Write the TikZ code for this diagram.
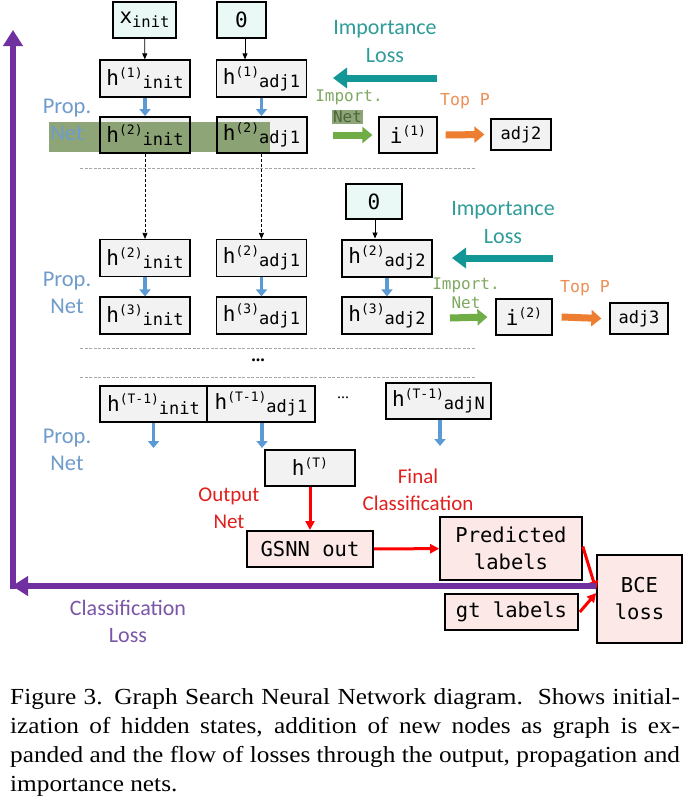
\documentclass[tikz,border=0pt]{standalone}
\usepackage{fontspec}
\usepackage{graphicx}
\setmainfont{Liberation Serif}
\setmonofont{DejaVu Sans Mono}
\newfontfamily\calib{Carlito}
\usetikzlibrary{arrows.meta}

\definecolor{boxgray}{HTML}{F2F2F2}
\definecolor{boxcyan}{HTML}{EBF9F6}
\definecolor{boxpink}{HTML}{FCE9E7}
\definecolor{propblue}{HTML}{5B9BD5}
\definecolor{proptext}{HTML}{6F9CCB}
\definecolor{impteal}{HTML}{129696}
\definecolor{imptext}{HTML}{2E9C98}
\definecolor{netgreen}{HTML}{70AD47}
\definecolor{nettext}{HTML}{7FA862}
\definecolor{bandgreen}{HTML}{728F55}
\definecolor{topor}{HTML}{ED7D31}
\definecolor{toptext}{HTML}{EE8F58}
\definecolor{outred}{HTML}{FF0000}
\definecolor{outtext}{HTML}{E0201E}
\definecolor{clspurple}{HTML}{7030A0}
\definecolor{clstext}{HTML}{7B55A8}

% hidden state label: h^(step)_node
\newcommand{\hst}[2]{h\raisebox{8pt}{\fontsize{13}{13}\selectfont(#1)}\raisebox{-3pt}{\fontsize{17}{17}\selectfont#2}}

\tikzset{
  box/.style={draw=black, line width=1.2pt, fill=boxgray, minimum width=90pt,
    minimum height=37pt, inner sep=0pt, font=\fontsize{21}{21}\selectfont\ttfamily},
  initbox/.style={box, fill=boxcyan},
  thickbox/.style={box, line width=2pt},
  smallbox/.style={box, font=\fontsize{17}{17}\selectfont\ttfamily},
  outbox/.style={box, line width=1.6pt, fill=boxpink, align=center,
    font=\fontsize{20.5}{27}\selectfont\ttfamily},
  proplabel/.style={text=proptext, align=center, font=\calib\fontsize{22.5}{27}\selectfont},
  implabel/.style={text=imptext, align=center, font=\calib\fontsize{22}{28}\selectfont},
  netlabel/.style={text=nettext, inner sep=1pt, font=\fontsize{16}{16}\selectfont\ttfamily},
  toplabel/.style={text=toptext, font=\fontsize{16.5}{16.5}\selectfont\ttfamily},
  outlabel/.style={text=outtext, align=center, font=\calib\fontsize{21}{27}\selectfont},
  clslabel/.style={text=clstext, align=center, font=\calib\fontsize{22}{27}\selectfont},
  feed/.style={-{Triangle[width=5pt,length=6pt]}, line width=0.8pt},
  carry/.style={feed, dash pattern=on 3pt off 2pt},
  prop/.style={-{Triangle[width=11pt,length=7pt]}, line width=3.5pt, draw=propblue},
  impl/.style={-{Triangle[width=20pt,length=14pt]}, line width=7pt, draw=impteal},
  impn/.style={-{Triangle[width=16pt,length=10pt]}, line width=7pt, draw=netgreen},
  topp/.style={-{Triangle[width=16pt,length=10pt]}, line width=7pt, draw=topor},
  outp/.style={-{Triangle[width=9pt,length=9pt]}, line width=3pt, draw=outred},
  clsl/.style={-{Triangle[width=19pt,length=16pt]}, line width=6pt, draw=clspurple},
  sep/.style={draw=gray!70, line width=0.6pt, dash pattern=on 3pt off 1.5pt},
  capline/.style={anchor=base west, inner sep=0pt, font=\fontsize{23}{23}\selectfont}
}

\begin{document}
\begin{tikzpicture}[x=1pt,y=-1pt]

\useasboundingbox[fill=white] (0,0) rectangle (690,809);

% Step 1: initial node and first neighbour
\node[initbox, minimum width=63pt, minimum height=36pt] (xinit) at (144.5,20)
  {x\raisebox{-4pt}{\fontsize{15.5}{15.5}\selectfont init}};
\node[initbox, minimum width=49pt, minimum height=36pt] (zeroa) at (241.5,20) {0};
\node[box] (h1i) at (145,78.5) {\hst{1}{init}};
\node[box] (h1a) at (261.5,78.5) {\hst{1}{adj1}};

% Green band over the second row (box fill, band, then text and border)
\fill[boxgray] (100,117) rectangle (190,153);
\fill[boxgray] (216.5,117) rectangle (306.5,153);
\fill[bandgreen, opacity=0.8] (49,122) rectangle (270,152);
\node[thickbox, fill=none, minimum height=36pt] (h2i) at (145,135) {\hst{2}{init}};
\node[thickbox, fill=none, minimum height=36pt] (h2a) at (261.5,135) {\hst{2}{adj1}};
\node[proplabel] (prop1) at (67,120) {Prop.\\Net};

\draw[feed] (xinit) -- (h1i);
\draw[feed] ([xshift=3.5pt]zeroa.south) -- ([xshift=3.5pt]zeroa.south |- h1a.north);
\draw[prop] (h1i) -- (h2i);
\draw[prop] (h1a) -- (h2a);

% Importance net 1
\node[box, minimum width=58pt, minimum height=36pt] (i1) at (408,135)
  {i\raisebox{8pt}{\fontsize{13}{13}\selectfont(1)}};
\node[smallbox, minimum width=60pt, minimum height=31pt] (adj2) at (521,134.5) {adj2};
\node[implabel] (imp1) at (385,42) {Importance\\Loss};
\coordinate (imp1s) at (437,78);
\coordinate (imp1e) at (333,78);
\draw[impl] (imp1s) -- (imp1e);
\node[netlabel] (import1) at (349,97) {Import.};
\node[netlabel, fill=bandgreen!80, text=nettext!60!black] (net1) at (347.5,117) {Net};
\coordinate (green1) at (333,135);
\draw[impn] (green1) -- ([xshift=-6pt]i1.west);
\node[toplabel] (top1) at (465,101) {Top P};
\draw[topp] ([xshift=8pt]i1.east) -- ([xshift=-6pt]adj2.west);

\draw[sep] (80,168) -- (475,168);

% Step 2
\node[initbox, minimum width=56pt, minimum height=35pt] (zerob) at (374,201.5) {0};
\node[box] (h2ii) at (145,258) {\hst{2}{init}};
\node[box] (h2ia) at (261.5,258) {\hst{2}{adj1}};
\node[thickbox] (h2b) at (387,258) {\hst{2}{adj2}};
\node[box] (h3i) at (145,315.5) {\hst{3}{init}};
\node[box] (h3a) at (261.5,315.5) {\hst{3}{adj1}};
\node[box] (h3b) at (387,315.5) {\hst{3}{adj2}};
\draw[carry] (h2i) -- (h2ii);
\draw[carry] (h2a) -- (h2ia);
\draw[feed] ([xshift=1pt]zerob.south) -- ([xshift=1pt]zerob.south |- h2b.north);
\draw[prop] (h2ii) -- (h3i);
\draw[prop] (h2ia) -- (h3a);
\draw[prop] (h2b) -- (h3b);
\node[proplabel] (prop2) at (67,293) {Prop.\\Net};

% Importance net 2
\node[box, minimum width=56pt, minimum height=36pt] (i2) at (524,317)
  {i\raisebox{8pt}{\fontsize{13}{13}\selectfont(2)}};
\node[smallbox, minimum width=58pt, minimum height=31pt] (adj3) at (639,318.5) {adj3};
\node[implabel] (imp2) at (503,223) {Importance\\Loss};
\coordinate (imp2s) at (553,258);
\coordinate (imp2e) at (452,258);
\draw[impl] (imp2s) -- (imp2e);
\node[netlabel] (import2) at (466,285) {Import.};
\node[netlabel] (net2) at (466,303) {Net};
\coordinate (green2) at (450,318);
\draw[impn] (green2) -- ([xshift=-8pt]i2.west);
\node[toplabel] (top2) at (585,288) {Top P};
\draw[topp] ([xshift=9pt]i2.east) -- ([xshift=-8pt]adj3.west);

\draw[sep] (80,348) -- (475,348);
\node[font=\bfseries\fontsize{18}{18}\selectfont] (dotsa) at (258,360) {...};
\draw[sep] (80,377) -- (475,377);

% Step T
\node[thickbox, minimum width=107pt, minimum height=36pt] (hti) at (153.5,404) {\hst{T-1}{init}};
\node[thickbox, minimum width=108pt, minimum height=36pt] (hta) at (261,404) {\hst{T-1}{adj1}};
\node[font=\fontsize{16}{16}\selectfont] (dotsb) at (343,398) {...};
\node[box, minimum width=105pt, minimum height=36pt] (htn) at (438.5,401) {\hst{T-1}{adjN}};
\coordinate (ti) at (153.5,448);
\coordinate (ta) at (262,448);
\coordinate (tn) at (440,446);
\draw[prop] (hti.south) -- (ti);
\draw[prop] (hta.south -| ta) -- (ta);
\draw[prop] (htn.south -| tn) -- (tn);
\node[proplabel] (prop3) at (67,450) {Prop.\\Net};

% Output net and losses
\node[box, minimum height=36pt] (ht) at (310,468) {\hst{T}{}};
\node[outbox, minimum width=126pt, minimum height=36pt, line width=2pt] (gsnn) at (310,549) {GSNN out};
\node[outbox, minimum width=142pt, minimum height=63pt] (pred) at (511,548.5) {Predicted\\labels};
\node[outbox, minimum width=133pt, minimum height=36pt] (gt) at (511.5,612) {gt labels};
\node[outbox, minimum width=85pt, minimum height=88pt] (bce) at (639.5,599) {BCE\\loss};
\node[outlabel] (outnet) at (229,508) {Output\\Net};
\node[outlabel] (final) at (418,490) {Final\\Classification};
\draw[outp] (ht) -- (gsnn);
\draw[outp] (gsnn) -- (pred);
\draw[outp] ([yshift=2pt]pred.east) -- ([yshift=9pt]bce.west);
\draw[outp] ([xshift=1pt]gt.east) -- ([yshift=6pt]bce.west);

% Classification loss
\coordinate (corner) at (13,586);
\coordinate (top) at (13,30);
\draw[clsl] ([yshift=13pt]bce.west) -- ([xshift=-1pt]corner);
\draw[clsl] ([yshift=-3pt]corner) -- (top);
\node[clslabel] (clsloss) at (128,621) {Classification\\Loss};

% Caption
\node[capline] (cap1) at (10,704)
  {\scalebox{1.1}[1]{\makebox[609pt][s]{Figure 3. Graph Search Neural Network diagram.\ \ Shows initial-}}};
\node[capline] (cap2) at (10,733)
  {\scalebox{1.1}[1]{\makebox[609pt][s]{ization of hidden states, addition of new nodes as graph is ex-}}};
\node[capline] (cap3) at (10,762)
  {\scalebox{1.1}[1]{\makebox[609pt][s]{panded and the flow of losses through the output, propagation and}}};
\node[capline] (cap4) at (10,791)
  {\scalebox{1.1}[1]{importance nets.}};

\end{tikzpicture}
\end{document}
